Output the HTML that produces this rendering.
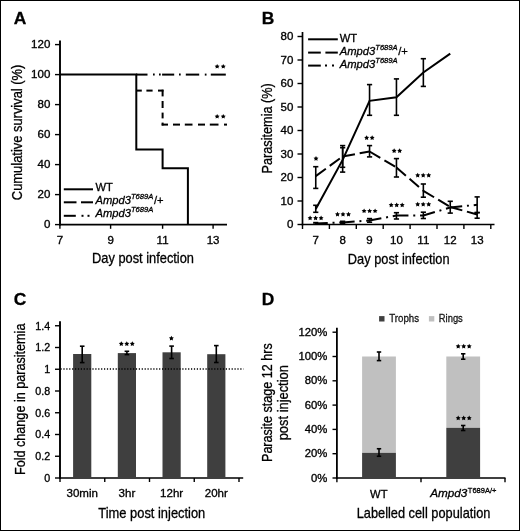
<!DOCTYPE html>
<html><head><meta charset="utf-8"><style>
html,body{margin:0;padding:0;background:#fff;}
svg{display:block;will-change:transform;font-family:"Liberation Sans",sans-serif;}
text{stroke:#000;stroke-width:0.3px;}
</style></head><body>
<svg width="520" height="531" viewBox="0 0 520 531">
<rect x="0" y="0" width="520" height="531" fill="#fff"/>
<rect x="0.5" y="0.5" width="519" height="530" fill="none" stroke="#000" stroke-width="1"/>
<text x="13.7" y="24.4" font-size="17.4" text-anchor="start" font-weight="bold" font-style="normal" fill="#000" stroke="#000" stroke-width="0">A</text>
<line x1="60" y1="40.5" x2="60" y2="225.4" stroke="#000" stroke-width="1.9" stroke-linecap="butt"/>
<line x1="59.5" y1="224.6" x2="227" y2="224.6" stroke="#000" stroke-width="1.6" stroke-linecap="butt"/>
<line x1="55" y1="224.6" x2="60" y2="224.6" stroke="#000" stroke-width="1.4" stroke-linecap="butt"/>
<text x="50.3" y="228.2" font-size="10" text-anchor="end" font-weight="normal" font-style="normal" fill="#000" stroke="#000" stroke-width="0.2" textLength="6.4" lengthAdjust="spacingAndGlyphs">0</text>
<line x1="55" y1="194.6" x2="60" y2="194.6" stroke="#000" stroke-width="1.4" stroke-linecap="butt"/>
<text x="50.3" y="198.2" font-size="10" text-anchor="end" font-weight="normal" font-style="normal" fill="#000" stroke="#000" stroke-width="0.2" textLength="12.79" lengthAdjust="spacingAndGlyphs">20</text>
<line x1="55" y1="164.6" x2="60" y2="164.6" stroke="#000" stroke-width="1.4" stroke-linecap="butt"/>
<text x="50.3" y="168.2" font-size="10" text-anchor="end" font-weight="normal" font-style="normal" fill="#000" stroke="#000" stroke-width="0.2" textLength="12.79" lengthAdjust="spacingAndGlyphs">40</text>
<line x1="55" y1="134.6" x2="60" y2="134.6" stroke="#000" stroke-width="1.4" stroke-linecap="butt"/>
<text x="50.3" y="138.2" font-size="10" text-anchor="end" font-weight="normal" font-style="normal" fill="#000" stroke="#000" stroke-width="0.2" textLength="12.79" lengthAdjust="spacingAndGlyphs">60</text>
<line x1="55" y1="104.6" x2="60" y2="104.6" stroke="#000" stroke-width="1.4" stroke-linecap="butt"/>
<text x="50.3" y="108.19999999999999" font-size="10" text-anchor="end" font-weight="normal" font-style="normal" fill="#000" stroke="#000" stroke-width="0.2" textLength="12.79" lengthAdjust="spacingAndGlyphs">80</text>
<line x1="55" y1="74.6" x2="60" y2="74.6" stroke="#000" stroke-width="1.4" stroke-linecap="butt"/>
<text x="50.3" y="78.19999999999999" font-size="10" text-anchor="end" font-weight="normal" font-style="normal" fill="#000" stroke="#000" stroke-width="0.2" textLength="19.19" lengthAdjust="spacingAndGlyphs">100</text>
<line x1="55" y1="44.599999999999994" x2="60" y2="44.599999999999994" stroke="#000" stroke-width="1.4" stroke-linecap="butt"/>
<text x="50.3" y="48.199999999999996" font-size="10" text-anchor="end" font-weight="normal" font-style="normal" fill="#000" stroke="#000" stroke-width="0.2" textLength="19.19" lengthAdjust="spacingAndGlyphs">120</text>
<line x1="59.9" y1="224.6" x2="59.9" y2="228.8" stroke="#000" stroke-width="1.4" stroke-linecap="butt"/>
<text x="59.9" y="243.6" font-size="10" text-anchor="middle" font-weight="normal" font-style="normal" fill="#000" stroke="#000" stroke-width="0.2" textLength="6.4" lengthAdjust="spacingAndGlyphs">7</text>
<line x1="110.6" y1="224.6" x2="110.6" y2="228.8" stroke="#000" stroke-width="1.4" stroke-linecap="butt"/>
<text x="110.6" y="243.6" font-size="10" text-anchor="middle" font-weight="normal" font-style="normal" fill="#000" stroke="#000" stroke-width="0.2" textLength="6.4" lengthAdjust="spacingAndGlyphs">9</text>
<line x1="162.6" y1="224.6" x2="162.6" y2="228.8" stroke="#000" stroke-width="1.4" stroke-linecap="butt"/>
<text x="162.6" y="243.6" font-size="10" text-anchor="middle" font-weight="normal" font-style="normal" fill="#000" stroke="#000" stroke-width="0.2" textLength="11.94" lengthAdjust="spacingAndGlyphs">11</text>
<line x1="213.1" y1="224.6" x2="213.1" y2="228.8" stroke="#000" stroke-width="1.4" stroke-linecap="butt"/>
<text x="213.1" y="243.6" font-size="10" text-anchor="middle" font-weight="normal" font-style="normal" fill="#000" stroke="#000" stroke-width="0.2" textLength="12.79" lengthAdjust="spacingAndGlyphs">13</text>
<text x="143" y="263.3" font-size="14.5" text-anchor="middle" font-weight="normal" font-style="normal" fill="#000" stroke="#000" textLength="102" lengthAdjust="spacingAndGlyphs">Day post infection</text>
<text x="22.4" y="132.4" font-size="14" text-anchor="middle" font-weight="normal" font-style="normal" fill="#000" stroke="#000" textLength="135.5" lengthAdjust="spacingAndGlyphs" transform="rotate(-90 22.4 132.4)">Cumulative survival (%)</text>
<line x1="136" y1="74.6" x2="147.5" y2="74.6" stroke="#000" stroke-width="2.0" stroke-linecap="butt"/>
<line x1="153.0" y1="74.6" x2="154.7" y2="74.6" stroke="#000" stroke-width="2.0" stroke-linecap="butt"/>
<line x1="159.0" y1="74.6" x2="160.7" y2="74.6" stroke="#000" stroke-width="2.0" stroke-linecap="butt"/>
<line x1="162.1" y1="74.6" x2="174.2" y2="74.6" stroke="#000" stroke-width="2.0" stroke-linecap="butt"/>
<line x1="179.0" y1="74.6" x2="180.7" y2="74.6" stroke="#000" stroke-width="2.0" stroke-linecap="butt"/>
<line x1="185.8" y1="74.6" x2="199.2" y2="74.6" stroke="#000" stroke-width="2.0" stroke-linecap="butt"/>
<line x1="204.8" y1="74.6" x2="206.5" y2="74.6" stroke="#000" stroke-width="2.0" stroke-linecap="butt"/>
<line x1="210.8" y1="74.6" x2="225.8" y2="74.6" stroke="#000" stroke-width="2.0" stroke-linecap="butt"/>
<line x1="136" y1="90.6" x2="141.8" y2="90.6" stroke="#000" stroke-width="2.0" stroke-linecap="butt"/>
<line x1="146.4" y1="90.6" x2="152.6" y2="90.6" stroke="#000" stroke-width="2.0" stroke-linecap="butt"/>
<line x1="158" y1="90.6" x2="163.5" y2="90.6" stroke="#000" stroke-width="2.0" stroke-linecap="butt"/>
<line x1="162.6" y1="89.7" x2="162.6" y2="96.4" stroke="#000" stroke-width="2.0" stroke-linecap="butt"/>
<line x1="162.6" y1="101" x2="162.6" y2="108" stroke="#000" stroke-width="2.0" stroke-linecap="butt"/>
<line x1="162.6" y1="112.6" x2="162.6" y2="118.4" stroke="#000" stroke-width="2.0" stroke-linecap="butt"/>
<line x1="162.6" y1="122.6" x2="162.6" y2="125.5" stroke="#000" stroke-width="2.0" stroke-linecap="butt"/>
<line x1="161.7" y1="124.6" x2="168" y2="124.6" stroke="#000" stroke-width="2.0" stroke-linecap="butt"/>
<line x1="173" y1="124.6" x2="180" y2="124.6" stroke="#000" stroke-width="2.0" stroke-linecap="butt"/>
<line x1="184.8" y1="124.6" x2="192.5" y2="124.6" stroke="#000" stroke-width="2.0" stroke-linecap="butt"/>
<line x1="198" y1="124.6" x2="205" y2="124.6" stroke="#000" stroke-width="2.0" stroke-linecap="butt"/>
<line x1="209.8" y1="124.6" x2="218.5" y2="124.6" stroke="#000" stroke-width="2.0" stroke-linecap="butt"/>
<line x1="224" y1="124.6" x2="227" y2="124.6" stroke="#000" stroke-width="2.0" stroke-linecap="butt"/>
<polyline points="60,74.6 136.3,74.6 136.3,149.6 162.6,149.6 162.6,168.35 187.9,168.35 187.9,224.6" fill="none" stroke="#000" stroke-width="2.0" stroke-linejoin="miter"/>
<polygon points="217.15,63.90 217.94,65.41 219.62,65.70 218.44,66.92 218.68,68.60 217.15,67.85 215.62,68.60 215.86,66.92 214.68,65.70 216.36,65.41" fill="#000"/>
<polygon points="223.25,63.90 224.04,65.41 225.72,65.70 224.54,66.92 224.78,68.60 223.25,67.85 221.72,68.60 221.96,66.92 220.78,65.70 222.46,65.41" fill="#000"/>
<polygon points="217.15,113.90 217.94,115.41 219.62,115.70 218.44,116.92 218.68,118.60 217.15,117.85 215.62,118.60 215.86,116.92 214.68,115.70 216.36,115.41" fill="#000"/>
<polygon points="223.25,113.90 224.04,115.41 225.72,115.70 224.54,116.92 224.78,118.60 223.25,117.85 221.72,118.60 221.96,116.92 220.78,115.70 222.46,115.41" fill="#000"/>
<line x1="63.8" y1="189.3" x2="93" y2="189.3" stroke="#000" stroke-width="2.0" stroke-linecap="butt"/>
<line x1="63.8" y1="202.3" x2="76.5" y2="202.3" stroke="#000" stroke-width="2.0" stroke-linecap="butt"/>
<line x1="81" y1="202.3" x2="93" y2="202.3" stroke="#000" stroke-width="2.0" stroke-linecap="butt"/>
<line x1="63.8" y1="215.8" x2="75.8" y2="215.8" stroke="#000" stroke-width="2.0" stroke-linecap="butt"/>
<line x1="81.5" y1="215.8" x2="83.5" y2="215.8" stroke="#000" stroke-width="2.0" stroke-linecap="butt"/>
<line x1="87.5" y1="215.8" x2="89.5" y2="215.8" stroke="#000" stroke-width="2.0" stroke-linecap="butt"/>
<text x="95.5" y="191.1" font-size="11.2" text-anchor="start" font-weight="normal" font-style="normal" fill="#000" stroke="#000">WT</text>
<text x="95.5" y="204.15" font-size="11.2" font-style="italic">Ampd3<tspan font-size="7.6" dy="-5.4">T689A</tspan><tspan font-style="normal" dx="0.6" dy="5.4" font-size="11.2">/+</tspan></text>
<text x="95.5" y="217.2" font-size="11.2" font-style="italic">Ampd3<tspan font-size="7.6" dy="-5.4">T689A</tspan></text>
<text x="261.8" y="24.4" font-size="17.4" text-anchor="start" font-weight="bold" font-style="normal" fill="#000" stroke="#000" stroke-width="0">B</text>
<line x1="302.5" y1="32" x2="302.5" y2="225.3" stroke="#000" stroke-width="1.7" stroke-linecap="butt"/>
<line x1="301.7" y1="224.5" x2="494.5" y2="224.5" stroke="#000" stroke-width="1.6" stroke-linecap="butt"/>
<line x1="297.5" y1="224.5" x2="302.5" y2="224.5" stroke="#000" stroke-width="1.4" stroke-linecap="butt"/>
<text x="293.4" y="228.0" font-size="10" text-anchor="end" font-weight="normal" font-style="normal" fill="#000" stroke="#000" stroke-width="0.2" textLength="6.4" lengthAdjust="spacingAndGlyphs">0</text>
<line x1="297.5" y1="201.0" x2="302.5" y2="201.0" stroke="#000" stroke-width="1.4" stroke-linecap="butt"/>
<text x="293.4" y="204.5" font-size="10" text-anchor="end" font-weight="normal" font-style="normal" fill="#000" stroke="#000" stroke-width="0.2" textLength="12.79" lengthAdjust="spacingAndGlyphs">10</text>
<line x1="297.5" y1="177.5" x2="302.5" y2="177.5" stroke="#000" stroke-width="1.4" stroke-linecap="butt"/>
<text x="293.4" y="181.0" font-size="10" text-anchor="end" font-weight="normal" font-style="normal" fill="#000" stroke="#000" stroke-width="0.2" textLength="12.79" lengthAdjust="spacingAndGlyphs">20</text>
<line x1="297.5" y1="154.0" x2="302.5" y2="154.0" stroke="#000" stroke-width="1.4" stroke-linecap="butt"/>
<text x="293.4" y="157.5" font-size="10" text-anchor="end" font-weight="normal" font-style="normal" fill="#000" stroke="#000" stroke-width="0.2" textLength="12.79" lengthAdjust="spacingAndGlyphs">30</text>
<line x1="297.5" y1="130.5" x2="302.5" y2="130.5" stroke="#000" stroke-width="1.4" stroke-linecap="butt"/>
<text x="293.4" y="134.0" font-size="10" text-anchor="end" font-weight="normal" font-style="normal" fill="#000" stroke="#000" stroke-width="0.2" textLength="12.79" lengthAdjust="spacingAndGlyphs">40</text>
<line x1="297.5" y1="107.0" x2="302.5" y2="107.0" stroke="#000" stroke-width="1.4" stroke-linecap="butt"/>
<text x="293.4" y="110.5" font-size="10" text-anchor="end" font-weight="normal" font-style="normal" fill="#000" stroke="#000" stroke-width="0.2" textLength="12.79" lengthAdjust="spacingAndGlyphs">50</text>
<line x1="297.5" y1="83.5" x2="302.5" y2="83.5" stroke="#000" stroke-width="1.4" stroke-linecap="butt"/>
<text x="293.4" y="87.0" font-size="10" text-anchor="end" font-weight="normal" font-style="normal" fill="#000" stroke="#000" stroke-width="0.2" textLength="12.79" lengthAdjust="spacingAndGlyphs">60</text>
<line x1="297.5" y1="60.0" x2="302.5" y2="60.0" stroke="#000" stroke-width="1.4" stroke-linecap="butt"/>
<text x="293.4" y="63.5" font-size="10" text-anchor="end" font-weight="normal" font-style="normal" fill="#000" stroke="#000" stroke-width="0.2" textLength="12.79" lengthAdjust="spacingAndGlyphs">70</text>
<line x1="297.5" y1="36.5" x2="302.5" y2="36.5" stroke="#000" stroke-width="1.4" stroke-linecap="butt"/>
<text x="293.4" y="40.0" font-size="10" text-anchor="end" font-weight="normal" font-style="normal" fill="#000" stroke="#000" stroke-width="0.2" textLength="12.79" lengthAdjust="spacingAndGlyphs">80</text>
<line x1="302.5" y1="224.5" x2="302.5" y2="229" stroke="#000" stroke-width="1.4" stroke-linecap="butt"/>
<line x1="329.4" y1="224.5" x2="329.4" y2="229" stroke="#000" stroke-width="1.4" stroke-linecap="butt"/>
<line x1="356.3" y1="224.5" x2="356.3" y2="229" stroke="#000" stroke-width="1.4" stroke-linecap="butt"/>
<line x1="383.2" y1="224.5" x2="383.2" y2="229" stroke="#000" stroke-width="1.4" stroke-linecap="butt"/>
<line x1="410.1" y1="224.5" x2="410.1" y2="229" stroke="#000" stroke-width="1.4" stroke-linecap="butt"/>
<line x1="437.0" y1="224.5" x2="437.0" y2="229" stroke="#000" stroke-width="1.4" stroke-linecap="butt"/>
<line x1="463.9" y1="224.5" x2="463.9" y2="229" stroke="#000" stroke-width="1.4" stroke-linecap="butt"/>
<line x1="490.79999999999995" y1="224.5" x2="490.79999999999995" y2="229" stroke="#000" stroke-width="1.4" stroke-linecap="butt"/>
<text x="315.75" y="244.0" font-size="10" text-anchor="middle" font-weight="normal" font-style="normal" fill="#000" stroke="#000" stroke-width="0.2" textLength="6.4" lengthAdjust="spacingAndGlyphs">7</text>
<text x="342.65" y="244.0" font-size="10" text-anchor="middle" font-weight="normal" font-style="normal" fill="#000" stroke="#000" stroke-width="0.2" textLength="6.4" lengthAdjust="spacingAndGlyphs">8</text>
<text x="369.55" y="244.0" font-size="10" text-anchor="middle" font-weight="normal" font-style="normal" fill="#000" stroke="#000" stroke-width="0.2" textLength="6.4" lengthAdjust="spacingAndGlyphs">9</text>
<text x="396.45" y="244.0" font-size="10" text-anchor="middle" font-weight="normal" font-style="normal" fill="#000" stroke="#000" stroke-width="0.2" textLength="12.79" lengthAdjust="spacingAndGlyphs">10</text>
<text x="423.35" y="244.0" font-size="10" text-anchor="middle" font-weight="normal" font-style="normal" fill="#000" stroke="#000" stroke-width="0.2" textLength="11.94" lengthAdjust="spacingAndGlyphs">11</text>
<text x="450.25" y="244.0" font-size="10" text-anchor="middle" font-weight="normal" font-style="normal" fill="#000" stroke="#000" stroke-width="0.2" textLength="12.79" lengthAdjust="spacingAndGlyphs">12</text>
<text x="477.15" y="244.0" font-size="10" text-anchor="middle" font-weight="normal" font-style="normal" fill="#000" stroke="#000" stroke-width="0.2" textLength="12.79" lengthAdjust="spacingAndGlyphs">13</text>
<text x="398.7" y="263.5" font-size="14.5" text-anchor="middle" font-weight="normal" font-style="normal" fill="#000" stroke="#000" textLength="101.7" lengthAdjust="spacingAndGlyphs">Day post infection</text>
<text x="271.8" y="128.3" font-size="14" text-anchor="middle" font-weight="normal" font-style="normal" fill="#000" stroke="#000" textLength="90.2" lengthAdjust="spacingAndGlyphs" transform="rotate(-90 271.8 128.3)">Parasitemia (%)</text>
<line x1="315.75" y1="223.4" x2="342.65" y2="222.4" stroke="#000" stroke-width="2.0" stroke-linecap="butt" stroke-dasharray="12 4.8 2 4.8"/>
<line x1="342.65" y1="222.4" x2="369.55" y2="220.5" stroke="#000" stroke-width="2.0" stroke-linecap="butt" stroke-dasharray="12 4.8 2 4.8"/>
<line x1="369.55" y1="220.5" x2="396.45" y2="215.5" stroke="#000" stroke-width="2.0" stroke-linecap="butt" stroke-dasharray="12 4.8 2 4.8"/>
<line x1="396.45" y1="215.5" x2="423.35" y2="215.5" stroke="#000" stroke-width="2.0" stroke-linecap="butt" stroke-dasharray="12 4.8 2 4.8"/>
<line x1="423.35" y1="215.5" x2="450.25" y2="207.5" stroke="#000" stroke-width="2.0" stroke-linecap="butt" stroke-dasharray="12 4.8 2 4.8"/>
<line x1="450.25" y1="207.5" x2="477.15" y2="204.8" stroke="#000" stroke-width="2.0" stroke-linecap="butt" stroke-dasharray="12 4.8 2 4.8"/>
<line x1="315.75" y1="176.1" x2="342.65" y2="156.5" stroke="#000" stroke-width="2.0" stroke-linecap="butt" stroke-dasharray="12.5 4.8"/>
<line x1="342.65" y1="156.5" x2="369.55" y2="151.5" stroke="#000" stroke-width="2.0" stroke-linecap="butt" stroke-dasharray="12.5 4.8"/>
<line x1="369.55" y1="151.5" x2="396.45" y2="167.5" stroke="#000" stroke-width="2.0" stroke-linecap="butt" stroke-dasharray="12.5 4.8"/>
<line x1="396.45" y1="167.5" x2="423.35" y2="190.8" stroke="#000" stroke-width="2.0" stroke-linecap="butt" stroke-dasharray="12.5 4.8"/>
<line x1="423.35" y1="190.8" x2="450.25" y2="207" stroke="#000" stroke-width="2.0" stroke-linecap="butt" stroke-dasharray="12.5 4.8"/>
<line x1="450.25" y1="207" x2="477.15" y2="214.5" stroke="#000" stroke-width="2.0" stroke-linecap="butt" stroke-dasharray="12.5 4.8"/>
<polyline points="315.75,209 342.65,159.9 369.55,100.8 396.45,97.2 423.35,72.5 450.25,53.6" fill="none" stroke="#000" stroke-width="2.0" stroke-linejoin="miter"/>
<line x1="315.75" y1="205.3" x2="315.75" y2="212.3" stroke="#000" stroke-width="1.6" stroke-linecap="butt"/>
<line x1="313.15" y1="205.3" x2="318.35" y2="205.3" stroke="#000" stroke-width="1.6" stroke-linecap="butt"/>
<line x1="313.15" y1="212.3" x2="318.35" y2="212.3" stroke="#000" stroke-width="1.6" stroke-linecap="butt"/>
<line x1="342.65" y1="147.7" x2="342.65" y2="172.1" stroke="#000" stroke-width="1.6" stroke-linecap="butt"/>
<line x1="340.04999999999995" y1="147.7" x2="345.25" y2="147.7" stroke="#000" stroke-width="1.6" stroke-linecap="butt"/>
<line x1="340.04999999999995" y1="172.1" x2="345.25" y2="172.1" stroke="#000" stroke-width="1.6" stroke-linecap="butt"/>
<line x1="369.55" y1="84.6" x2="369.55" y2="115.3" stroke="#000" stroke-width="1.6" stroke-linecap="butt"/>
<line x1="366.95" y1="84.6" x2="372.15000000000003" y2="84.6" stroke="#000" stroke-width="1.6" stroke-linecap="butt"/>
<line x1="366.95" y1="115.3" x2="372.15000000000003" y2="115.3" stroke="#000" stroke-width="1.6" stroke-linecap="butt"/>
<line x1="396.45" y1="78.9" x2="396.45" y2="115.3" stroke="#000" stroke-width="1.6" stroke-linecap="butt"/>
<line x1="393.84999999999997" y1="78.9" x2="399.05" y2="78.9" stroke="#000" stroke-width="1.6" stroke-linecap="butt"/>
<line x1="393.84999999999997" y1="115.3" x2="399.05" y2="115.3" stroke="#000" stroke-width="1.6" stroke-linecap="butt"/>
<line x1="423.35" y1="58.7" x2="423.35" y2="86.4" stroke="#000" stroke-width="1.6" stroke-linecap="butt"/>
<line x1="420.75" y1="58.7" x2="425.95000000000005" y2="58.7" stroke="#000" stroke-width="1.6" stroke-linecap="butt"/>
<line x1="420.75" y1="86.4" x2="425.95000000000005" y2="86.4" stroke="#000" stroke-width="1.6" stroke-linecap="butt"/>
<line x1="315.75" y1="166.7" x2="315.75" y2="188.4" stroke="#000" stroke-width="1.6" stroke-linecap="butt"/>
<line x1="313.15" y1="166.7" x2="318.35" y2="166.7" stroke="#000" stroke-width="1.6" stroke-linecap="butt"/>
<line x1="313.15" y1="188.4" x2="318.35" y2="188.4" stroke="#000" stroke-width="1.6" stroke-linecap="butt"/>
<line x1="342.65" y1="145.6" x2="342.65" y2="167.3" stroke="#000" stroke-width="1.6" stroke-linecap="butt"/>
<line x1="340.04999999999995" y1="145.6" x2="345.25" y2="145.6" stroke="#000" stroke-width="1.6" stroke-linecap="butt"/>
<line x1="340.04999999999995" y1="167.3" x2="345.25" y2="167.3" stroke="#000" stroke-width="1.6" stroke-linecap="butt"/>
<line x1="369.55" y1="145.6" x2="369.55" y2="156.9" stroke="#000" stroke-width="1.6" stroke-linecap="butt"/>
<line x1="366.95" y1="145.6" x2="372.15000000000003" y2="145.6" stroke="#000" stroke-width="1.6" stroke-linecap="butt"/>
<line x1="366.95" y1="156.9" x2="372.15000000000003" y2="156.9" stroke="#000" stroke-width="1.6" stroke-linecap="butt"/>
<line x1="396.45" y1="158.6" x2="396.45" y2="177" stroke="#000" stroke-width="1.6" stroke-linecap="butt"/>
<line x1="393.84999999999997" y1="158.6" x2="399.05" y2="158.6" stroke="#000" stroke-width="1.6" stroke-linecap="butt"/>
<line x1="393.84999999999997" y1="177" x2="399.05" y2="177" stroke="#000" stroke-width="1.6" stroke-linecap="butt"/>
<line x1="423.35" y1="184" x2="423.35" y2="197.2" stroke="#000" stroke-width="1.6" stroke-linecap="butt"/>
<line x1="420.75" y1="184" x2="425.95000000000005" y2="184" stroke="#000" stroke-width="1.6" stroke-linecap="butt"/>
<line x1="420.75" y1="197.2" x2="425.95000000000005" y2="197.2" stroke="#000" stroke-width="1.6" stroke-linecap="butt"/>
<line x1="450.25" y1="201.3" x2="450.25" y2="213.1" stroke="#000" stroke-width="1.6" stroke-linecap="butt"/>
<line x1="447.65" y1="201.3" x2="452.85" y2="201.3" stroke="#000" stroke-width="1.6" stroke-linecap="butt"/>
<line x1="447.65" y1="213.1" x2="452.85" y2="213.1" stroke="#000" stroke-width="1.6" stroke-linecap="butt"/>
<line x1="477.15" y1="212.6" x2="477.15" y2="218.2" stroke="#000" stroke-width="1.6" stroke-linecap="butt"/>
<line x1="474.54999999999995" y1="212.6" x2="479.75" y2="212.6" stroke="#000" stroke-width="1.6" stroke-linecap="butt"/>
<line x1="474.54999999999995" y1="218.2" x2="479.75" y2="218.2" stroke="#000" stroke-width="1.6" stroke-linecap="butt"/>
<line x1="315.75" y1="222.6" x2="315.75" y2="224.2" stroke="#000" stroke-width="1.6" stroke-linecap="butt"/>
<line x1="313.15" y1="222.6" x2="318.35" y2="222.6" stroke="#000" stroke-width="1.6" stroke-linecap="butt"/>
<line x1="313.15" y1="224.2" x2="318.35" y2="224.2" stroke="#000" stroke-width="1.6" stroke-linecap="butt"/>
<line x1="342.65" y1="221.3" x2="342.65" y2="223.4" stroke="#000" stroke-width="1.6" stroke-linecap="butt"/>
<line x1="340.04999999999995" y1="221.3" x2="345.25" y2="221.3" stroke="#000" stroke-width="1.6" stroke-linecap="butt"/>
<line x1="340.04999999999995" y1="223.4" x2="345.25" y2="223.4" stroke="#000" stroke-width="1.6" stroke-linecap="butt"/>
<line x1="369.55" y1="218.6" x2="369.55" y2="222.2" stroke="#000" stroke-width="1.6" stroke-linecap="butt"/>
<line x1="366.95" y1="218.6" x2="372.15000000000003" y2="218.6" stroke="#000" stroke-width="1.6" stroke-linecap="butt"/>
<line x1="366.95" y1="222.2" x2="372.15000000000003" y2="222.2" stroke="#000" stroke-width="1.6" stroke-linecap="butt"/>
<line x1="396.45" y1="212.7" x2="396.45" y2="219" stroke="#000" stroke-width="1.6" stroke-linecap="butt"/>
<line x1="393.84999999999997" y1="212.7" x2="399.05" y2="212.7" stroke="#000" stroke-width="1.6" stroke-linecap="butt"/>
<line x1="393.84999999999997" y1="219" x2="399.05" y2="219" stroke="#000" stroke-width="1.6" stroke-linecap="butt"/>
<line x1="423.35" y1="212.2" x2="423.35" y2="218.5" stroke="#000" stroke-width="1.6" stroke-linecap="butt"/>
<line x1="420.75" y1="212.2" x2="425.95000000000005" y2="212.2" stroke="#000" stroke-width="1.6" stroke-linecap="butt"/>
<line x1="420.75" y1="218.5" x2="425.95000000000005" y2="218.5" stroke="#000" stroke-width="1.6" stroke-linecap="butt"/>
<line x1="477.15" y1="196.9" x2="477.15" y2="212.6" stroke="#000" stroke-width="1.6" stroke-linecap="butt"/>
<line x1="474.54999999999995" y1="196.9" x2="479.75" y2="196.9" stroke="#000" stroke-width="1.6" stroke-linecap="butt"/>
<line x1="474.54999999999995" y1="212.6" x2="479.75" y2="212.6" stroke="#000" stroke-width="1.6" stroke-linecap="butt"/>
<polygon points="316.00,156.00 316.79,157.51 318.47,157.80 317.29,159.02 317.53,160.70 316.00,159.95 314.47,160.70 314.71,159.02 313.53,157.80 315.21,157.51" fill="#000"/>
<polygon points="310.10,215.60 310.89,217.11 312.57,217.40 311.39,218.62 311.63,220.30 310.10,219.55 308.57,220.30 308.81,218.62 307.63,217.40 309.31,217.11" fill="#000"/>
<polygon points="315.60,215.60 316.39,217.11 318.07,217.40 316.89,218.62 317.13,220.30 315.60,219.55 314.07,220.30 314.31,218.62 313.13,217.40 314.81,217.11" fill="#000"/>
<polygon points="321.10,215.60 321.89,217.11 323.57,217.40 322.39,218.62 322.63,220.30 321.10,219.55 319.57,220.30 319.81,218.62 318.63,217.40 320.31,217.11" fill="#000"/>
<polygon points="337.50,211.70 338.29,213.21 339.97,213.50 338.79,214.72 339.03,216.40 337.50,215.65 335.97,216.40 336.21,214.72 335.03,213.50 336.71,213.21" fill="#000"/>
<polygon points="343.00,211.70 343.79,213.21 345.47,213.50 344.29,214.72 344.53,216.40 343.00,215.65 341.47,216.40 341.71,214.72 340.53,213.50 342.21,213.21" fill="#000"/>
<polygon points="348.50,211.70 349.29,213.21 350.97,213.50 349.79,214.72 350.03,216.40 348.50,215.65 346.97,216.40 347.21,214.72 346.03,213.50 347.71,213.21" fill="#000"/>
<polygon points="366.65,135.30 367.44,136.81 369.12,137.10 367.94,138.32 368.18,140.00 366.65,139.25 365.12,140.00 365.36,138.32 364.18,137.10 365.86,136.81" fill="#000"/>
<polygon points="372.15,135.30 372.94,136.81 374.62,137.10 373.44,138.32 373.68,140.00 372.15,139.25 370.62,140.00 370.86,138.32 369.68,137.10 371.36,136.81" fill="#000"/>
<polygon points="364.10,208.40 364.89,209.91 366.57,210.20 365.39,211.42 365.63,213.10 364.10,212.35 362.57,213.10 362.81,211.42 361.63,210.20 363.31,209.91" fill="#000"/>
<polygon points="369.60,208.40 370.39,209.91 372.07,210.20 370.89,211.42 371.13,213.10 369.60,212.35 368.07,213.10 368.31,211.42 367.13,210.20 368.81,209.91" fill="#000"/>
<polygon points="375.10,208.40 375.89,209.91 377.57,210.20 376.39,211.42 376.63,213.10 375.10,212.35 373.57,213.10 373.81,211.42 372.63,210.20 374.31,209.91" fill="#000"/>
<polygon points="394.15,148.30 394.94,149.81 396.62,150.10 395.44,151.32 395.68,153.00 394.15,152.25 392.62,153.00 392.86,151.32 391.68,150.10 393.36,149.81" fill="#000"/>
<polygon points="399.65,148.30 400.44,149.81 402.12,150.10 400.94,151.32 401.18,153.00 399.65,152.25 398.12,153.00 398.36,151.32 397.18,150.10 398.86,149.81" fill="#000"/>
<polygon points="391.20,202.50 391.99,204.01 393.67,204.30 392.49,205.52 392.73,207.20 391.20,206.45 389.67,207.20 389.91,205.52 388.73,204.30 390.41,204.01" fill="#000"/>
<polygon points="396.70,202.50 397.49,204.01 399.17,204.30 397.99,205.52 398.23,207.20 396.70,206.45 395.17,207.20 395.41,205.52 394.23,204.30 395.91,204.01" fill="#000"/>
<polygon points="402.20,202.50 402.99,204.01 404.67,204.30 403.49,205.52 403.73,207.20 402.20,206.45 400.67,207.20 400.91,205.52 399.73,204.30 401.41,204.01" fill="#000"/>
<polygon points="417.70,172.70 418.49,174.21 420.17,174.50 418.99,175.72 419.23,177.40 417.70,176.65 416.17,177.40 416.41,175.72 415.23,174.50 416.91,174.21" fill="#000"/>
<polygon points="423.20,172.70 423.99,174.21 425.67,174.50 424.49,175.72 424.73,177.40 423.20,176.65 421.67,177.40 421.91,175.72 420.73,174.50 422.41,174.21" fill="#000"/>
<polygon points="428.70,172.70 429.49,174.21 431.17,174.50 429.99,175.72 430.23,177.40 428.70,176.65 427.17,177.40 427.41,175.72 426.23,174.50 427.91,174.21" fill="#000"/>
<polygon points="417.70,201.70 418.49,203.21 420.17,203.50 418.99,204.72 419.23,206.40 417.70,205.65 416.17,206.40 416.41,204.72 415.23,203.50 416.91,203.21" fill="#000"/>
<polygon points="423.20,201.70 423.99,203.21 425.67,203.50 424.49,204.72 424.73,206.40 423.20,205.65 421.67,206.40 421.91,204.72 420.73,203.50 422.41,203.21" fill="#000"/>
<polygon points="428.70,201.70 429.49,203.21 431.17,203.50 429.99,204.72 430.23,206.40 428.70,205.65 427.17,206.40 427.41,204.72 426.23,203.50 427.91,203.21" fill="#000"/>
<line x1="308.1" y1="39.3" x2="337.8" y2="39.3" stroke="#000" stroke-width="2.0" stroke-linecap="butt"/>
<line x1="308.1" y1="52.6" x2="320.8" y2="52.6" stroke="#000" stroke-width="2.0" stroke-linecap="butt"/>
<line x1="325.4" y1="52.6" x2="337.8" y2="52.6" stroke="#000" stroke-width="2.0" stroke-linecap="butt"/>
<line x1="308.1" y1="65.6" x2="320.8" y2="65.6" stroke="#000" stroke-width="2.0" stroke-linecap="butt"/>
<line x1="325" y1="65.6" x2="327" y2="65.6" stroke="#000" stroke-width="2.0" stroke-linecap="butt"/>
<line x1="332" y1="65.6" x2="334" y2="65.6" stroke="#000" stroke-width="2.0" stroke-linecap="butt"/>
<text x="339.8" y="42.2" font-size="11.2" text-anchor="start" font-weight="normal" font-style="normal" fill="#000" stroke="#000">WT</text>
<text x="339.8" y="55.300000000000004" font-size="11.2" font-style="italic">Ampd3<tspan font-size="7.6" dy="-5.4">T689A</tspan><tspan font-style="normal" dx="0.6" dy="5.4" font-size="11.2">/+</tspan></text>
<text x="339.8" y="68.4" font-size="11.2" font-style="italic">Ampd3<tspan font-size="7.6" dy="-5.4">T689A</tspan></text>
<text x="13.8" y="305.1" font-size="17.4" text-anchor="start" font-weight="bold" font-style="normal" fill="#000" stroke="#000" stroke-width="0">C</text>
<line x1="60" y1="321.2" x2="60" y2="478.8" stroke="#000" stroke-width="1.9" stroke-linecap="butt"/>
<line x1="59.5" y1="478" x2="243.2" y2="478" stroke="#000" stroke-width="1.6" stroke-linecap="butt"/>
<line x1="55" y1="478.0" x2="60" y2="478.0" stroke="#000" stroke-width="1.4" stroke-linecap="butt"/>
<text x="50.1" y="481.9" font-size="10" text-anchor="end" font-weight="normal" font-style="normal" fill="#000" stroke="#000" stroke-width="0.2" textLength="5.95" lengthAdjust="spacingAndGlyphs">0</text>
<line x1="55" y1="456.25" x2="60" y2="456.25" stroke="#000" stroke-width="1.4" stroke-linecap="butt"/>
<text x="50.1" y="460.15" font-size="10" text-anchor="end" font-weight="normal" font-style="normal" fill="#000" stroke="#000" stroke-width="0.2" textLength="14.87" lengthAdjust="spacingAndGlyphs">0.2</text>
<line x1="55" y1="434.5" x2="60" y2="434.5" stroke="#000" stroke-width="1.4" stroke-linecap="butt"/>
<text x="50.1" y="438.4" font-size="10" text-anchor="end" font-weight="normal" font-style="normal" fill="#000" stroke="#000" stroke-width="0.2" textLength="14.87" lengthAdjust="spacingAndGlyphs">0.4</text>
<line x1="55" y1="412.75" x2="60" y2="412.75" stroke="#000" stroke-width="1.4" stroke-linecap="butt"/>
<text x="50.1" y="416.65" font-size="10" text-anchor="end" font-weight="normal" font-style="normal" fill="#000" stroke="#000" stroke-width="0.2" textLength="14.87" lengthAdjust="spacingAndGlyphs">0.6</text>
<line x1="55" y1="391.0" x2="60" y2="391.0" stroke="#000" stroke-width="1.4" stroke-linecap="butt"/>
<text x="50.1" y="394.9" font-size="10" text-anchor="end" font-weight="normal" font-style="normal" fill="#000" stroke="#000" stroke-width="0.2" textLength="14.87" lengthAdjust="spacingAndGlyphs">0.8</text>
<line x1="55" y1="369.25" x2="60" y2="369.25" stroke="#000" stroke-width="1.4" stroke-linecap="butt"/>
<text x="50.1" y="373.15" font-size="10" text-anchor="end" font-weight="normal" font-style="normal" fill="#000" stroke="#000" stroke-width="0.2" textLength="5.95" lengthAdjust="spacingAndGlyphs">1</text>
<line x1="55" y1="347.5" x2="60" y2="347.5" stroke="#000" stroke-width="1.4" stroke-linecap="butt"/>
<text x="50.1" y="351.4" font-size="10" text-anchor="end" font-weight="normal" font-style="normal" fill="#000" stroke="#000" stroke-width="0.2" textLength="14.87" lengthAdjust="spacingAndGlyphs">1.2</text>
<line x1="55" y1="325.75" x2="60" y2="325.75" stroke="#000" stroke-width="1.4" stroke-linecap="butt"/>
<text x="50.1" y="329.65" font-size="10" text-anchor="end" font-weight="normal" font-style="normal" fill="#000" stroke="#000" stroke-width="0.2" textLength="14.87" lengthAdjust="spacingAndGlyphs">1.4</text>
<line x1="60.0" y1="478" x2="60.0" y2="482" stroke="#000" stroke-width="1.4" stroke-linecap="butt"/>
<line x1="104.75" y1="478" x2="104.75" y2="482" stroke="#000" stroke-width="1.4" stroke-linecap="butt"/>
<line x1="149.5" y1="478" x2="149.5" y2="482" stroke="#000" stroke-width="1.4" stroke-linecap="butt"/>
<line x1="194.25" y1="478" x2="194.25" y2="482" stroke="#000" stroke-width="1.4" stroke-linecap="butt"/>
<line x1="239.0" y1="478" x2="239.0" y2="482" stroke="#000" stroke-width="1.4" stroke-linecap="butt"/>
<rect x="73.10000000000001" y="354.0" width="18.2" height="124.0" fill="#3f3f3f"/>
<rect x="117.80000000000001" y="353.1" width="18.2" height="124.89999999999998" fill="#3f3f3f"/>
<rect x="162.5" y="352.3" width="18.2" height="125.69999999999999" fill="#3f3f3f"/>
<rect x="207.20000000000002" y="354.2" width="18.2" height="123.80000000000001" fill="#3f3f3f"/>
<line x1="60.5" y1="369.1" x2="243.5" y2="369.1" stroke="#000" stroke-width="1.5" stroke-linecap="butt" stroke-dasharray="1.2 1.7"/>
<line x1="82.2" y1="346.2" x2="82.2" y2="362.6" stroke="#000" stroke-width="1.6" stroke-linecap="butt"/>
<line x1="79.9" y1="346.2" x2="84.5" y2="346.2" stroke="#000" stroke-width="1.6" stroke-linecap="butt"/>
<line x1="79.9" y1="362.6" x2="84.5" y2="362.6" stroke="#000" stroke-width="1.6" stroke-linecap="butt"/>
<line x1="126.9" y1="351.3" x2="126.9" y2="354.6" stroke="#000" stroke-width="1.6" stroke-linecap="butt"/>
<line x1="124.60000000000001" y1="351.3" x2="129.20000000000002" y2="351.3" stroke="#000" stroke-width="1.6" stroke-linecap="butt"/>
<line x1="124.60000000000001" y1="354.6" x2="129.20000000000002" y2="354.6" stroke="#000" stroke-width="1.6" stroke-linecap="butt"/>
<line x1="171.6" y1="346.1" x2="171.6" y2="358.5" stroke="#000" stroke-width="1.6" stroke-linecap="butt"/>
<line x1="169.29999999999998" y1="346.1" x2="173.9" y2="346.1" stroke="#000" stroke-width="1.6" stroke-linecap="butt"/>
<line x1="169.29999999999998" y1="358.5" x2="173.9" y2="358.5" stroke="#000" stroke-width="1.6" stroke-linecap="butt"/>
<line x1="216.3" y1="345.6" x2="216.3" y2="362.5" stroke="#000" stroke-width="1.6" stroke-linecap="butt"/>
<line x1="214.0" y1="345.6" x2="218.60000000000002" y2="345.6" stroke="#000" stroke-width="1.6" stroke-linecap="butt"/>
<line x1="214.0" y1="362.5" x2="218.60000000000002" y2="362.5" stroke="#000" stroke-width="1.6" stroke-linecap="butt"/>
<polygon points="121.30,341.20 122.09,342.71 123.77,343.00 122.59,344.22 122.83,345.90 121.30,345.15 119.77,345.90 120.01,344.22 118.83,343.00 120.51,342.71" fill="#000"/>
<polygon points="126.80,341.20 127.59,342.71 129.27,343.00 128.09,344.22 128.33,345.90 126.80,345.15 125.27,345.90 125.51,344.22 124.33,343.00 126.01,342.71" fill="#000"/>
<polygon points="132.30,341.20 133.09,342.71 134.77,343.00 133.59,344.22 133.83,345.90 132.30,345.15 130.77,345.90 131.01,344.22 129.83,343.00 131.51,342.71" fill="#000"/>
<polygon points="171.40,335.80 172.19,337.31 173.87,337.60 172.69,338.82 172.93,340.50 171.40,339.75 169.87,340.50 170.11,338.82 168.93,337.60 170.61,337.31" fill="#000"/>
<text x="82.2" y="497.2" font-size="10.8" text-anchor="middle" font-weight="normal" font-style="normal" fill="#000" stroke="#000" textLength="31.47" lengthAdjust="spacingAndGlyphs">30min</text>
<text x="126.9" y="497.2" font-size="10.8" text-anchor="middle" font-weight="normal" font-style="normal" fill="#000" stroke="#000" textLength="16.7" lengthAdjust="spacingAndGlyphs">3hr</text>
<text x="171.6" y="497.2" font-size="10.8" text-anchor="middle" font-weight="normal" font-style="normal" fill="#000" stroke="#000" textLength="23.13" lengthAdjust="spacingAndGlyphs">12hr</text>
<text x="216.3" y="497.2" font-size="10.8" text-anchor="middle" font-weight="normal" font-style="normal" fill="#000" stroke="#000" textLength="23.13" lengthAdjust="spacingAndGlyphs">20hr</text>
<text x="151.8" y="517.6" font-size="14.3" text-anchor="middle" font-weight="normal" font-style="normal" fill="#000" stroke="#000" textLength="107" lengthAdjust="spacingAndGlyphs">Time post injection</text>
<text x="25.2" y="399.3" font-size="14" text-anchor="middle" font-weight="normal" font-style="normal" fill="#000" stroke="#000" textLength="151.5" lengthAdjust="spacingAndGlyphs" transform="rotate(-90 25.2 399.3)">Fold change in parasitemia</text>
<text x="261.7" y="305.1" font-size="17.4" text-anchor="start" font-weight="bold" font-style="normal" fill="#000" stroke="#000" stroke-width="0">D</text>
<line x1="336.9" y1="327.8" x2="336.9" y2="478.8" stroke="#000" stroke-width="1.8" stroke-linecap="butt"/>
<line x1="336.2" y1="478" x2="505.5" y2="478" stroke="#000" stroke-width="1.6" stroke-linecap="butt"/>
<line x1="332.5" y1="478.0" x2="336.9" y2="478.0" stroke="#000" stroke-width="1.4" stroke-linecap="butt"/>
<text x="327.4" y="481.6" font-size="10" text-anchor="end" font-weight="normal" font-style="normal" fill="#000" stroke="#000" stroke-width="0.2" textLength="16.33" lengthAdjust="spacingAndGlyphs">0%</text>
<line x1="332.5" y1="453.7" x2="336.9" y2="453.7" stroke="#000" stroke-width="1.4" stroke-linecap="butt"/>
<text x="327.4" y="457.3" font-size="10" text-anchor="end" font-weight="normal" font-style="normal" fill="#000" stroke="#000" stroke-width="0.2" textLength="22.62" lengthAdjust="spacingAndGlyphs">20%</text>
<line x1="332.5" y1="429.4" x2="336.9" y2="429.4" stroke="#000" stroke-width="1.4" stroke-linecap="butt"/>
<text x="327.4" y="433.0" font-size="10" text-anchor="end" font-weight="normal" font-style="normal" fill="#000" stroke="#000" stroke-width="0.2" textLength="22.62" lengthAdjust="spacingAndGlyphs">40%</text>
<line x1="332.5" y1="405.1" x2="336.9" y2="405.1" stroke="#000" stroke-width="1.4" stroke-linecap="butt"/>
<text x="327.4" y="408.70000000000005" font-size="10" text-anchor="end" font-weight="normal" font-style="normal" fill="#000" stroke="#000" stroke-width="0.2" textLength="22.62" lengthAdjust="spacingAndGlyphs">60%</text>
<line x1="332.5" y1="380.8" x2="336.9" y2="380.8" stroke="#000" stroke-width="1.4" stroke-linecap="butt"/>
<text x="327.4" y="384.40000000000003" font-size="10" text-anchor="end" font-weight="normal" font-style="normal" fill="#000" stroke="#000" stroke-width="0.2" textLength="22.62" lengthAdjust="spacingAndGlyphs">80%</text>
<line x1="332.5" y1="356.5" x2="336.9" y2="356.5" stroke="#000" stroke-width="1.4" stroke-linecap="butt"/>
<text x="327.4" y="360.1" font-size="10" text-anchor="end" font-weight="normal" font-style="normal" fill="#000" stroke="#000" stroke-width="0.2" textLength="28.9" lengthAdjust="spacingAndGlyphs">100%</text>
<line x1="332.5" y1="332.2" x2="336.9" y2="332.2" stroke="#000" stroke-width="1.4" stroke-linecap="butt"/>
<text x="327.4" y="335.8" font-size="10" text-anchor="end" font-weight="normal" font-style="normal" fill="#000" stroke="#000" stroke-width="0.2" textLength="28.9" lengthAdjust="spacingAndGlyphs">120%</text>
<line x1="336.9" y1="478" x2="336.9" y2="482.3" stroke="#000" stroke-width="1.4" stroke-linecap="butt"/>
<line x1="421" y1="478" x2="421" y2="482.3" stroke="#000" stroke-width="1.4" stroke-linecap="butt"/>
<line x1="505" y1="478" x2="505" y2="482.3" stroke="#000" stroke-width="1.4" stroke-linecap="butt"/>
<rect x="362.1" y="356.5" width="33.8" height="96.34949999999998" fill="#c0c0c0"/>
<rect x="362.1" y="452.8495" width="33.8" height="25.150500000000022" fill="#3f3f3f"/>
<line x1="379" y1="352" x2="379" y2="360.6" stroke="#000" stroke-width="1.6" stroke-linecap="butt"/>
<line x1="376.8" y1="352" x2="381.2" y2="352" stroke="#000" stroke-width="1.6" stroke-linecap="butt"/>
<line x1="376.8" y1="360.6" x2="381.2" y2="360.6" stroke="#000" stroke-width="1.6" stroke-linecap="butt"/>
<line x1="379" y1="448.75" x2="379" y2="456.25" stroke="#000" stroke-width="1.6" stroke-linecap="butt"/>
<line x1="376.8" y1="448.75" x2="381.2" y2="448.75" stroke="#000" stroke-width="1.6" stroke-linecap="butt"/>
<line x1="376.8" y1="456.25" x2="381.2" y2="456.25" stroke="#000" stroke-width="1.6" stroke-linecap="butt"/>
<rect x="446.3" y="356.5" width="33.8" height="71.32049999999998" fill="#c0c0c0"/>
<rect x="446.3" y="427.8205" width="33.8" height="50.17950000000002" fill="#3f3f3f"/>
<line x1="463.2" y1="353.8" x2="463.2" y2="359.2" stroke="#000" stroke-width="1.6" stroke-linecap="butt"/>
<line x1="461.0" y1="353.8" x2="465.4" y2="353.8" stroke="#000" stroke-width="1.6" stroke-linecap="butt"/>
<line x1="461.0" y1="359.2" x2="465.4" y2="359.2" stroke="#000" stroke-width="1.6" stroke-linecap="butt"/>
<line x1="463.2" y1="425.5" x2="463.2" y2="430.5" stroke="#000" stroke-width="1.6" stroke-linecap="butt"/>
<line x1="461.0" y1="425.5" x2="465.4" y2="425.5" stroke="#000" stroke-width="1.6" stroke-linecap="butt"/>
<line x1="461.0" y1="430.5" x2="465.4" y2="430.5" stroke="#000" stroke-width="1.6" stroke-linecap="butt"/>
<polygon points="458.20,343.70 458.99,345.21 460.67,345.50 459.49,346.72 459.73,348.40 458.20,347.65 456.67,348.40 456.91,346.72 455.73,345.50 457.41,345.21" fill="#000"/>
<polygon points="463.70,343.70 464.49,345.21 466.17,345.50 464.99,346.72 465.23,348.40 463.70,347.65 462.17,348.40 462.41,346.72 461.23,345.50 462.91,345.21" fill="#000"/>
<polygon points="469.20,343.70 469.99,345.21 471.67,345.50 470.49,346.72 470.73,348.40 469.20,347.65 467.67,348.40 467.91,346.72 466.73,345.50 468.41,345.21" fill="#000"/>
<polygon points="458.20,415.60 458.99,417.11 460.67,417.40 459.49,418.62 459.73,420.30 458.20,419.55 456.67,420.30 456.91,418.62 455.73,417.40 457.41,417.11" fill="#000"/>
<polygon points="463.70,415.60 464.49,417.11 466.17,417.40 464.99,418.62 465.23,420.30 463.70,419.55 462.17,420.30 462.41,418.62 461.23,417.40 462.91,417.11" fill="#000"/>
<polygon points="469.20,415.60 469.99,417.11 471.67,417.40 470.49,418.62 470.73,420.30 469.20,419.55 467.67,420.30 467.91,418.62 466.73,417.40 468.41,417.11" fill="#000"/>
<rect x="379.1" y="316.1" width="5.4" height="5.4" fill="#3f3f3f"/>
<rect x="428.9" y="316.1" width="5.4" height="5.4" fill="#c0c0c0"/>
<text x="389.3" y="322.4" font-size="10" text-anchor="start" font-weight="normal" font-style="normal" fill="#333" stroke="#333" textLength="29.8" lengthAdjust="spacingAndGlyphs">Trophs</text>
<text x="438.8" y="322.4" font-size="10" text-anchor="start" font-weight="normal" font-style="normal" fill="#333" stroke="#333" textLength="24" lengthAdjust="spacingAndGlyphs">Rings</text>
<text x="378.8" y="497.5" font-size="11" text-anchor="middle" font-weight="normal" font-style="normal" fill="#000" stroke="#000" textLength="17.44" lengthAdjust="spacingAndGlyphs">WT</text>
<text x="430.2" y="496.7" font-size="11.7" font-style="italic" textLength="37.2" lengthAdjust="spacingAndGlyphs">Ampd3</text>
<text x="467.8" y="492.7" font-size="8" textLength="28.6" lengthAdjust="spacingAndGlyphs">T689A/+</text>
<text x="423.55" y="517.6" font-size="14.3" text-anchor="middle" font-weight="normal" font-style="normal" fill="#000" stroke="#000" textLength="133.7" lengthAdjust="spacingAndGlyphs">Labelled cell population</text>
<text x="271.6" y="402.65" font-size="14" text-anchor="middle" font-weight="normal" font-style="normal" fill="#000" stroke="#000" textLength="118.7" lengthAdjust="spacingAndGlyphs" transform="rotate(-90 271.6 402.65)">Parasite stage 12 hrs</text>
<text x="288.4" y="402.7" font-size="14" text-anchor="middle" font-weight="normal" font-style="normal" fill="#000" stroke="#000" textLength="75.2" lengthAdjust="spacingAndGlyphs" transform="rotate(-90 288.4 402.7)">post injection</text>
</svg>
</body></html>
